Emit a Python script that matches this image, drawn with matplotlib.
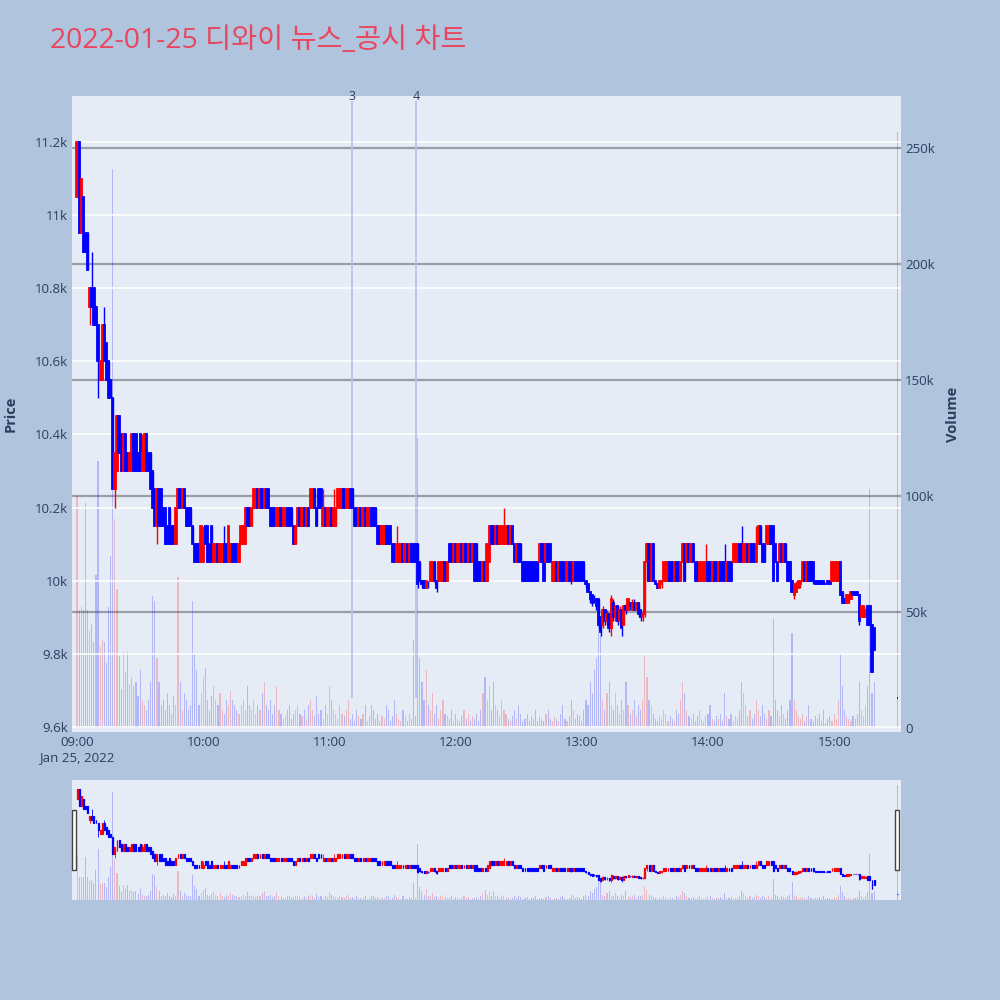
import matplotlib
matplotlib.use("Agg")
import matplotlib.pyplot as plt
from matplotlib.patches import Rectangle
from matplotlib.ticker import FixedLocator

# ---------------- data (1-minute candles, minutes after 09:00) ----------------
minutes = list(range(0, 380)) + [390]

opens = [
    11050, 11200, 10950, 11050, 10950, 10950, 10750, 10800, 10800, 10750,
    10700, 10550, 10550, 10700, 10650, 10600, 10550, 10500, 10250, 10300,
    10450, 10400, 10300, 10400, 10350, 10300, 10300, 10400, 10400, 10350,
    10400, 10300, 10300, 10400, 10350, 10350, 10300, 10250, 10150, 10250,
    10250, 10200, 10200, 10150, 10200, 10150, 10150, 10100, 10200, 10250,
    10200, 10250, 10200, 10200, 10200, 10150, 10100, 10100, 10100, 10050,
    10050, 10150, 10150, 10100, 10150, 10050, 10050, 10100, 10050, 10050,
    10100, 10100, 10050, 10050, 10100, 10100, 10100, 10050, 10100, 10100,
    10100, 10200, 10200, 10150, 10200, 10200, 10250, 10200, 10250, 10200,
    10250, 10250, 10200, 10200, 10200, 10150, 10150, 10200, 10150, 10150,
    10200, 10200, 10200, 10150, 10100, 10150, 10200, 10150, 10200, 10150,
    10200, 10200, 10200, 10250, 10200, 10250, 10250, 10150, 10200, 10150,
    10150, 10200, 10150, 10150, 10200, 10200, 10200, 10250, 10200, 10200,
    10250, 10250, 10200, 10200, 10150, 10200, 10150, 10200, 10150, 10150,
    10200, 10200, 10200, 10150, 10150, 10100, 10100, 10150, 10150, 10150,
    10100, 10100, 10050, 10050, 10050, 10100, 10050, 10100, 10050, 10100,
    10100, 10100, 10100, 10050, 10000, 10000, 9980, 9990, 10000, 10000,
    10050, 10000, 10000, 10000, 10000, 10050, 10000, 10100, 10100, 10050,
    10100, 10050, 10050, 10100, 10050, 10100, 10050, 10100, 10050, 10100,
    10100, 10050, 10050, 10000, 10050, 10000, 10050, 10150, 10150, 10100,
    10150, 10100, 10100, 10100, 10100, 10150, 10100, 10150, 10100, 10050,
    10100, 10100, 10050, 10050, 10050, 10050, 10050, 10050, 10050, 10050,
    10050, 10100, 10100, 10050, 10100, 10100, 10000, 10000, 10050, 10000,
    10050, 10050, 10050, 10000, 10050, 10050, 10000, 10050, 10050, 10050,
    10050, 10050, 10000, 9990, 9970, 9960, 9950, 9950, 9950, 9900,
    9880, 9920, 9890, 9910, 9870, 9940, 9900, 9930, 9890, 9920,
    9880, 9930, 9920, 9940, 9920, 9940, 9920, 9940, 9920, 9900,
    9910, 10050, 10100, 10000, 10100, 10000, 9990, 9980, 9990, 10000,
    10000, 10000, 10050, 10050, 10000, 10050, 10050, 10000, 10050, 10100,
    10050, 10100, 10050, 10100, 10050, 10050, 10000, 10000, 10000, 10000,
    10050, 10050, 10000, 10050, 10050, 10000, 10050, 10050, 10050, 10000,
    10050, 10050, 10050, 10050, 10050, 10100, 10100, 10050, 10050, 10100,
    10050, 10100, 10100, 10050, 10100, 10150, 10100, 10100, 10100, 10100,
    10150, 10150, 10100, 10050, 10050, 10100, 10050, 10100, 10050, 10050,
    10000, 9960, 9970, 9980, 9990, 10000, 10050, 10000, 10050, 10050,
    10050, 10000, 10000, 10000, 10000, 10000, 9990, 10000, 10000, 10000,
    10000, 10000, 10000, 10050, 9970, 9950, 9940, 9940, 9950, 9970,
    9970, 9970, 9960, 9900, 9900, 9900, 9930, 9930, 9880, 9870,
    9680,
]
highs = [
    11200, 11200, 11100, 11050, 10950, 10950, 10800, 10900, 10800, 10750,
    10700, 10600, 10700, 10750, 10650, 10600, 10550, 10500, 10350, 10450,
    10450, 10400, 10400, 10400, 10350, 10350, 10400, 10400, 10400, 10350,
    10400, 10400, 10400, 10400, 10350, 10350, 10300, 10250, 10250, 10250,
    10250, 10200, 10200, 10150, 10200, 10150, 10150, 10200, 10250, 10250,
    10250, 10250, 10200, 10200, 10200, 10150, 10100, 10100, 10100, 10150,
    10150, 10150, 10150, 10100, 10150, 10100, 10100, 10100, 10100, 10100,
    10150, 10100, 10150, 10100, 10100, 10100, 10100, 10100, 10150, 10150,
    10200, 10200, 10200, 10200, 10250, 10250, 10250, 10250, 10250, 10250,
    10250, 10250, 10200, 10200, 10200, 10200, 10200, 10200, 10200, 10200,
    10200, 10200, 10200, 10150, 10150, 10200, 10200, 10200, 10200, 10200,
    10200, 10250, 10250, 10250, 10200, 10250, 10250, 10250, 10200, 10200,
    10200, 10200, 10250, 10200, 10250, 10250, 10250, 10250, 10250, 10250,
    10250, 10250, 10200, 10200, 10200, 10200, 10200, 10200, 10200, 10200,
    10200, 10200, 10200, 10150, 10150, 10150, 10150, 10150, 10150, 10150,
    10100, 10100, 10150, 10100, 10100, 10100, 10100, 10100, 10100, 10100,
    10100, 10100, 10100, 10050, 10000, 10000, 10000, 10000, 10050, 10050,
    10050, 10000, 10050, 10050, 10050, 10050, 10050, 10100, 10100, 10100,
    10100, 10100, 10100, 10100, 10100, 10100, 10100, 10100, 10100, 10100,
    10100, 10050, 10050, 10050, 10050, 10100, 10150, 10150, 10150, 10150,
    10150, 10150, 10150, 10200, 10150, 10150, 10150, 10150, 10100, 10100,
    10100, 10100, 10050, 10050, 10050, 10050, 10050, 10050, 10050, 10050,
    10100, 10100, 10100, 10100, 10100, 10100, 10050, 10050, 10050, 10050,
    10050, 10050, 10050, 10050, 10050, 10050, 10050, 10050, 10050, 10050,
    10050, 10050, 10000, 9990, 9970, 9960, 9960, 9950, 9950, 9900,
    9930, 9920, 9920, 9910, 9960, 9950, 9930, 9930, 9930, 9920,
    9930, 9940, 9950, 9940, 9950, 9950, 9940, 9940, 9920, 9920,
    10050, 10100, 10100, 10100, 10100, 10000, 9990, 10000, 10000, 10050,
    10050, 10050, 10050, 10050, 10050, 10050, 10050, 10050, 10100, 10100,
    10100, 10100, 10100, 10100, 10050, 10050, 10050, 10050, 10050, 10100,
    10050, 10050, 10050, 10050, 10050, 10050, 10050, 10050, 10100, 10050,
    10050, 10050, 10100, 10100, 10100, 10100, 10150, 10100, 10100, 10100,
    10100, 10100, 10100, 10150, 10150, 10150, 10100, 10100, 10150, 10150,
    10150, 10150, 10100, 10050, 10100, 10100, 10100, 10100, 10050, 10050,
    10000, 9990, 10000, 10000, 10000, 10050, 10050, 10050, 10050, 10050,
    10050, 10000, 10000, 10000, 10000, 10000, 9990, 10000, 10000, 10050,
    10050, 10050, 10050, 10050, 9970, 9950, 9960, 9960, 9970, 9970,
    9970, 9970, 9960, 9930, 9930, 9930, 9930, 9930, 9880, 9870,
    9680,
]
lows = [
    11050, 10950, 10950, 10900, 10900, 10850, 10700, 10750, 10700, 10700,
    10500, 10550, 10550, 10600, 10550, 10500, 10500, 10250, 10200, 10300,
    10350, 10300, 10300, 10300, 10300, 10300, 10300, 10300, 10300, 10300,
    10300, 10300, 10300, 10300, 10300, 10250, 10200, 10150, 10100, 10150,
    10150, 10150, 10100, 10100, 10100, 10100, 10100, 10100, 10200, 10200,
    10200, 10200, 10150, 10150, 10150, 10100, 10050, 10050, 10050, 10050,
    10050, 10100, 10050, 10050, 10050, 10050, 10050, 10050, 10050, 10050,
    10050, 10050, 10050, 10050, 10050, 10050, 10050, 10050, 10100, 10100,
    10100, 10150, 10150, 10150, 10200, 10200, 10200, 10200, 10200, 10200,
    10200, 10200, 10150, 10150, 10150, 10150, 10150, 10150, 10150, 10150,
    10150, 10150, 10150, 10100, 10100, 10150, 10150, 10150, 10150, 10150,
    10150, 10200, 10200, 10200, 10150, 10200, 10200, 10150, 10150, 10150,
    10150, 10150, 10150, 10150, 10200, 10200, 10200, 10200, 10200, 10200,
    10200, 10200, 10150, 10150, 10150, 10150, 10150, 10150, 10150, 10150,
    10150, 10150, 10150, 10100, 10100, 10100, 10100, 10100, 10100, 10100,
    10050, 10050, 10050, 10050, 10050, 10050, 10050, 10050, 10050, 10050,
    10050, 10050, 9980, 9990, 9980, 9980, 9980, 9980, 10000, 10000,
    9990, 9970, 10000, 10000, 10000, 10000, 10000, 10050, 10050, 10050,
    10050, 10050, 10050, 10050, 10050, 10050, 10050, 10050, 10050, 10000,
    10000, 10000, 10000, 10000, 10000, 10000, 10050, 10100, 10100, 10100,
    10100, 10100, 10100, 10100, 10100, 10100, 10100, 10100, 10050, 10050,
    10050, 10050, 10000, 10000, 10000, 10000, 10000, 10000, 10000, 10000,
    10050, 10050, 10000, 10050, 10050, 10050, 10000, 10000, 10000, 10000,
    10000, 10000, 10000, 10000, 10000, 9990, 10000, 10000, 10000, 10000,
    10000, 10000, 9980, 9970, 9940, 9930, 9940, 9920, 9870, 9850,
    9870, 9880, 9880, 9860, 9850, 9890, 9890, 9880, 9890, 9850,
    9880, 9910, 9920, 9920, 9920, 9920, 9920, 9900, 9890, 9890,
    9900, 10000, 10000, 10000, 10000, 9990, 9980, 9980, 9980, 10000,
    10000, 10000, 10000, 10000, 10000, 10000, 10000, 10000, 10050, 10000,
    10050, 10050, 10050, 10050, 10000, 10000, 10000, 10000, 10000, 10000,
    10000, 10000, 10000, 10000, 10000, 10000, 10000, 10000, 10000, 10000,
    10000, 10000, 10050, 10050, 10050, 10050, 10050, 10050, 10050, 10050,
    10050, 10050, 10050, 10050, 10100, 10100, 10050, 10050, 10100, 10100,
    10100, 10000, 10050, 10000, 10050, 10050, 10050, 10050, 10000, 10000,
    9970, 9950, 9970, 9980, 9980, 10000, 10000, 10000, 10000, 10000,
    9990, 9990, 9990, 9990, 9990, 9990, 9990, 9990, 9990, 10000,
    10000, 10000, 10000, 9960, 9940, 9940, 9940, 9940, 9950, 9960,
    9960, 9960, 9880, 9900, 9900, 9900, 9880, 9880, 9750, 9810,
    9680,
]
closes = [
    11200, 10950, 11100, 10900, 10900, 10850, 10800, 10750, 10700, 10700,
    10600, 10600, 10700, 10600, 10550, 10500, 10500, 10250, 10350, 10450,
    10350, 10300, 10400, 10300, 10300, 10350, 10400, 10300, 10300, 10300,
    10300, 10350, 10400, 10300, 10300, 10250, 10200, 10150, 10250, 10150,
    10150, 10150, 10100, 10100, 10100, 10100, 10100, 10200, 10250, 10200,
    10250, 10200, 10150, 10150, 10150, 10100, 10050, 10050, 10050, 10150,
    10100, 10100, 10050, 10050, 10050, 10100, 10100, 10050, 10100, 10100,
    10050, 10050, 10150, 10100, 10050, 10050, 10050, 10100, 10150, 10150,
    10200, 10150, 10150, 10200, 10250, 10250, 10200, 10250, 10200, 10250,
    10200, 10200, 10150, 10150, 10150, 10200, 10200, 10150, 10200, 10200,
    10150, 10150, 10150, 10100, 10150, 10200, 10150, 10200, 10150, 10200,
    10150, 10250, 10250, 10200, 10150, 10200, 10200, 10200, 10150, 10200,
    10200, 10150, 10200, 10200, 10250, 10250, 10250, 10200, 10250, 10250,
    10200, 10200, 10150, 10150, 10200, 10150, 10200, 10150, 10200, 10200,
    10150, 10150, 10150, 10100, 10100, 10150, 10150, 10100, 10100, 10100,
    10050, 10050, 10100, 10100, 10100, 10050, 10100, 10050, 10100, 10050,
    10050, 10050, 9990, 10000, 9990, 9980, 10000, 9990, 10050, 10050,
    10000, 9980, 10050, 10050, 10050, 10000, 10050, 10050, 10050, 10100,
    10050, 10100, 10100, 10050, 10100, 10050, 10100, 10050, 10100, 10000,
    10000, 10000, 10000, 10050, 10000, 10100, 10150, 10100, 10100, 10150,
    10100, 10150, 10150, 10150, 10150, 10100, 10150, 10100, 10050, 10100,
    10050, 10050, 10000, 10000, 10000, 10000, 10000, 10000, 10000, 10000,
    10100, 10050, 10000, 10100, 10050, 10050, 10050, 10050, 10000, 10050,
    10000, 10000, 10000, 10050, 10000, 10000, 10050, 10000, 10000, 10000,
    10000, 10000, 9990, 9970, 9950, 9940, 9950, 9930, 9880, 9860,
    9920, 9890, 9910, 9870, 9950, 9900, 9930, 9890, 9920, 9870,
    9930, 9920, 9950, 9930, 9940, 9920, 9940, 9910, 9900, 9910,
    10050, 10100, 10000, 10100, 10000, 9990, 9980, 10000, 10000, 10050,
    10050, 10050, 10000, 10000, 10050, 10000, 10000, 10050, 10100, 10000,
    10100, 10050, 10100, 10050, 10000, 10000, 10050, 10050, 10050, 10050,
    10000, 10000, 10050, 10000, 10000, 10050, 10000, 10000, 10000, 10050,
    10000, 10000, 10100, 10100, 10100, 10050, 10050, 10100, 10100, 10050,
    10100, 10050, 10050, 10100, 10150, 10100, 10050, 10050, 10150, 10150,
    10100, 10000, 10050, 10000, 10100, 10050, 10100, 10050, 10000, 10000,
    9970, 9990, 9990, 10000, 10000, 10050, 10000, 10050, 10000, 10000,
    10000, 9990, 9990, 9990, 9990, 9990, 9990, 9990, 9990, 10050,
    10050, 10050, 10050, 9960, 9940, 9940, 9960, 9960, 9970, 9960,
    9960, 9960, 9890, 9930, 9930, 9920, 9880, 9880, 9750, 9810,
    9680,
]
volumes_k = [
    100, 51, 52, 51, 97, 51, 42, 45, 37, 66,
    115, 35, 38, 37, 28, 52, 74, 241, 90, 60,
    31, 17, 33, 24, 33, 19, 22, 18, 20, 14,
    25, 12, 10, 8, 12, 20, 57, 55, 30, 20,
    10, 12, 8, 15, 10, 6, 14, 10, 65, 20,
    8, 15, 12, 8, 10, 55, 32, 25, 10, 15,
    22, 26, 12, 8, 14, 18, 12, 10, 15, 8,
    6, 12, 10, 16, 12, 10, 8, 6, 10, 12,
    8, 18, 10, 8, 12, 6, 10, 8, 15, 20,
    10, 8, 12, 6, 10, 18, 8, 6, 4, 5,
    8, 10, 4, 6, 8, 10, 6, 5, 8, 4,
    10, 12, 8, 5, 14, 6, 8, 4, 10, 6,
    18, 12, 8, 6, 4, 10, 6, 5, 8, 12,
    4, 6, 3, 8, 5, 4, 6, 10, 3, 5,
    10, 8, 4, 6, 3, 5, 4, 10, 8, 3,
    5, 12, 6, 4, 3, 8, 5, 3, 6, 4,
    38, 5, 125, 30, 20, 12, 25, 10, 8, 15,
    6, 10, 4, 8, 12, 6, 5, 4, 8, 3,
    6, 4, 3, 5, 8, 4, 6, 3, 5, 4,
    6, 3, 8, 15, 22, 12, 18, 8, 20, 10,
    8, 5, 12, 8, 6, 4, 3, 5, 8, 4,
    10, 6, 3, 4, 6, 3, 5, 4, 8, 3,
    5, 4, 3, 6, 8, 4, 3, 5, 4, 3,
    6, 10, 4, 3, 5, 12, 8, 4, 6, 5,
    3, 8, 12, 10, 20, 15, 25, 30, 45, 40,
    12, 8, 15, 20, 10, 8, 15, 10, 6, 12,
    8, 20, 10, 6, 8, 12, 5, 10, 8, 12,
    31, 22, 12, 10, 6, 4, 3, 5, 4, 8,
    6, 3, 5, 4, 3, 8, 6, 12, 20, 15,
    8, 5, 4, 6, 3, 5, 8, 4, 3, 5,
    6, 10, 4, 3, 5, 4, 6, 3, 15, 5,
    4, 6, 3, 5, 4, 8, 20, 15, 10, 5,
    8, 4, 6, 12, 8, 5, 10, 6, 4, 8,
    5, 47, 12, 8, 5, 10, 6, 4, 8, 12,
    41, 12, 8, 5, 4, 6, 3, 5, 10, 4,
    3, 5, 4, 6, 3, 8, 2, 4, 5, 3,
    6, 4, 12, 32, 18, 8, 5, 4, 3, 5,
    4, 6, 20, 8, 5, 10, 18, 103, 15, 20,
    257,
]
news_minutes = [130.7, 161.2]
news_labels = ["3", "4"]
news_floor_price = 9680
time_ticks = [0, 60, 120, 180, 240, 300, 360]
time_labels = ["09:00", "10:00", "11:00", "12:00", "13:00", "14:00", "15:00"]
price_ticks = [9600, 9800, 10000, 10200, 10400, 10600, 10800, 11000, 11200]
price_labels = ["9.6k", "9.8k", "10k", "10.2k", "10.4k", "10.6k", "10.8k", "11k", "11.2k"]
vol_ticks = [0, 50, 100, 150, 200, 250]
vol_labels = ["0", "50k", "100k", "150k", "200k", "250k"]
title = "2022-01-25 디와이 뉴스_공시 차트"

# ---------------- style ----------------
FIG_BG = "#B0C4DE"
PLOT_BG = "#E5ECF6"
TXT = "#2a3f5f"
UP = "#FF0000"
DOWN = "#0000FF"
UP_V = (1.0, 0.0, 0.0, 0.22)
DOWN_V = (0.0, 0.0, 1.0, 0.22)
XLIM = (-2.4, 391.8)
PLIM = (9586, 11326)
VLIM = (-1.7, 272.6)

plt.rcParams["font.family"] = ["Open Sans", "Noto Sans CJK KR", "DejaVu Sans"]

fig = plt.figure(figsize=(10, 10), dpi=100, facecolor=FIG_BG)

def draw(axp, axv, body_w, wick_lw, edge_lw, bar_w):
    up_flags = [c > o for o, c in zip(opens, closes)]
    vcol = [UP_V if u else DOWN_V for u in up_flags]
    axv.bar(minutes, volumes_k, width=bar_w, color=vcol, linewidth=0, zorder=1)
    ccol = [UP if u else DOWN for u in up_flags]
    axp.vlines(minutes, lows, highs, colors=ccol, linewidth=wick_lw, zorder=3)
    bottoms = [min(o, c) for o, c in zip(opens, closes)]
    heights = [abs(c - o) for o, c in zip(opens, closes)]
    axp.bar(minutes, heights, bottom=bottoms, width=body_w, color=ccol,
            edgecolor=ccol, linewidth=edge_lw, zorder=4)

# ---------------- main chart ----------------
axv = fig.add_axes([0.072, 0.268, 0.829, 0.636])
axv.set_facecolor(PLOT_BG)
axp = axv.twinx()
axp.yaxis.tick_left()
axp.yaxis.set_label_position("left")
axv.yaxis.tick_right()
axv.yaxis.set_label_position("right")
axv.set_zorder(1)
axp.set_zorder(2)
axp.patch.set_visible(False)

axv.set_xlim(*XLIM)
axv.set_ylim(*VLIM)
axp.set_ylim(*PLIM)

for p in price_ticks:
    axp.axhline(p, color="white", lw=1.1, zorder=0.5)
for v in vol_ticks[1:]:
    axv.axhline(v, color="#9a9ea6", lw=1.6, zorder=0.6)

draw(axp, axv, body_w=0.6, wick_lw=1.0, edge_lw=1.3, bar_w=0.55)

for m, lab in zip(news_minutes, news_labels):
    axp.plot([m, m], [news_floor_price, PLIM[1] - 14], color="#b4bff0",
             lw=1.2, zorder=2.5, solid_capstyle="butt")
    axp.text(m, PLIM[1] - 2, lab, ha="center", va="center", fontsize=9, color=TXT)

axv.xaxis.set_major_locator(FixedLocator(time_ticks))
axv.set_xticklabels(time_labels)
axp.yaxis.set_major_locator(FixedLocator(price_ticks))
axp.set_yticklabels(price_labels)
axv.yaxis.set_major_locator(FixedLocator(vol_ticks))
axv.set_yticklabels(vol_labels)
for a in (axv, axp):
    a.tick_params(length=0, labelsize=9.5, labelcolor=TXT, pad=3)
    for s in a.spines.values():
        s.set_visible(False)
axp.set_ylabel("Price", fontsize=10.5, fontweight="bold", color=TXT, labelpad=12)
axv.set_ylabel("Volume", fontsize=10.5, fontweight="bold", color=TXT, labelpad=8)
fig.text(0.077, 0.242, "Jan 25, 2022", ha="center", va="center", fontsize=9.5, color=TXT)

fig.text(0.05, 0.959, title, ha="left", va="center", fontsize=20.4, color="#E8475F",
         family=["Open Sans", "Noto Sans CJK KR"])

# ---------------- range slider ----------------
sv = fig.add_axes([0.072, 0.1, 0.829, 0.12])
sv.set_facecolor(PLOT_BG)
sp = sv.twinx()
sv.set_zorder(1)
sp.set_zorder(2)
sp.patch.set_visible(False)
sv.set_xlim(*XLIM)
sv.set_ylim(0, 268)
sp.set_ylim(*PLIM)
draw(sp, sv, body_w=0.45, wick_lw=0.6, edge_lw=0.9, bar_w=0.5)
for a in (sv, sp):
    a.set_xticks([])
    a.set_yticks([])
    for s in a.spines.values():
        s.set_visible(False)
for xf in (0.0735, 0.8965):
    fig.add_artist(Rectangle((xf - 0.002, 0.13), 0.004, 0.06, transform=fig.transFigure,
                             facecolor="white", edgecolor="#444444", lw=1.0, zorder=10))

fig.savefig("out.png", dpi=100, facecolor=FIG_BG)
